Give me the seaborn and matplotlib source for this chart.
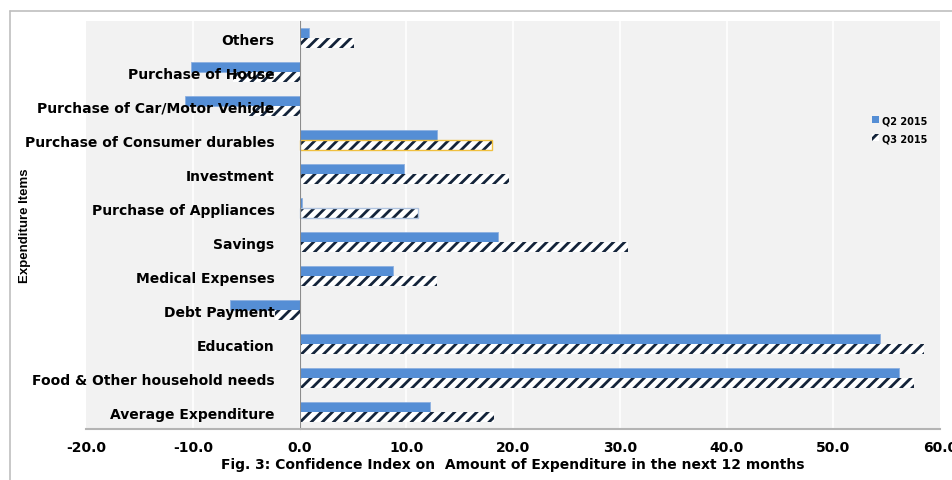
import numpy as np
import pandas as pd
import matplotlib
matplotlib.use("Agg")
import matplotlib.pyplot as plt
from matplotlib.lines import Line2D
import seaborn as sns

# data
categories = ["Others", "Purchase of House", "Purchase of Car/Motor Vehicle",
              "Purchase of Consumer durables", "Investment", "Purchase of Appliances",
              "Savings", "Medical Expenses", "Debt Payment", "Education",
              "Food & Other household needs", "Average Expenditure"]
q2_2015 = [0.9, -10.2, -10.7, 12.9, 9.8, 0.2, 18.6, 8.8, -6.5, 54.4, 56.2, 12.2]
q3_2015 = [5.1, -6.2, -4.8, 18.0, 19.6, 11.1, 30.8, 12.9, -2.3, 58.5, 57.6, 18.2]
series = ["Q2 2015", "Q3 2015"]
x_ticks = [-20, -10, 0, 10, 20, 30, 40, 50, 60]

df = pd.DataFrame({
    "item": categories * 2,
    "value": q2_2015 + q3_2015,
    "period": [series[0]] * len(categories) + [series[1]] * len(categories),
})

sns.set_style("white")
plt.rcParams["font.family"] = ["DejaVu Sans"]
plt.rcParams["hatch.linewidth"] = 2.0
plt.rcParams["text.color"] = "black"
plt.rcParams["axes.labelcolor"] = "black"
plt.rcParams["xtick.color"] = "black"
plt.rcParams["ytick.color"] = "black"

NAVY = "#14243a"
fig = plt.figure(figsize=(9.52, 4.81), dpi=100)
ax = fig.add_axes([86 / 952, 1 - 430 / 481, (940 - 86) / 952, (430 - 22) / 481])
ax.set_facecolor("#f2f2f2")

sns.barplot(data=df, x="value", y="item", hue="period", order=categories,
            hue_order=series, palette=["#558ed5", "white"], width=0.6,
            orient="h", ax=ax, legend=False, saturation=1)

n = len(categories)
for i, bar in enumerate(ax.patches[:2 * n]):
    bar.set_zorder(1)
    if i < n:
        bar.set_edgecolor("#8db0e0")
        bar.set_linewidth(0.6)
    else:
        bar.set_hatch("///")
        bar.set_edgecolor(NAVY)
        bar.set_linewidth(0)

# odd outlines visible in the original (drawn as separate frames so hatch stays navy)
for idx, col in [(n + 3, "#f0c040"), (n + 5, "#b0c4e0")]:
    b = ax.patches[idx]
    ax.add_patch(plt.Rectangle(b.get_xy(), b.get_width(), b.get_height(),
                               fill=False, edgecolor=col, linewidth=1.0, zorder=1.1))

ax.set_xlim(-20, 60)
ax.set_ylim(n - 0.5, -0.5)
ax.set_xticks(x_ticks)
ax.set_xticklabels([f"{t:.1f}" for t in x_ticks], fontsize=10, fontweight="bold")
for t in x_ticks[1:-1]:
    ax.axvline(t, color="white", linewidth=1.2, zorder=0.2)
ax.grid(False)
ax.set_axisbelow(False)  # category labels sit on top of the negative bars

ax.spines["left"].set_position(("data", 0))
ax.spines["left"].set_color("#8c8c8c")
ax.spines["bottom"].set_color("#b4b4b4")
ax.spines["bottom"].set_linewidth(1.5)
ax.spines["top"].set_visible(False)
ax.spines["right"].set_visible(False)

ax.set_yticks(range(n))
ax.set_yticklabels(categories, fontsize=10, fontweight="bold")
ax.set_yticks(np.arange(-0.5, n, 1), minor=True)
ax.tick_params(axis="y", which="major", length=0, pad=18)
ax.tick_params(axis="y", which="minor", length=5, color="#8c8c8c")
ax.tick_params(axis="x", length=5, color="#8c8c8c", pad=3)

ax.set_ylabel("")
ax.set_xlabel("Fig. 3: Confidence Index on  Amount of Expenditure in the next 12 months",
              fontsize=10, fontweight="bold", labelpad=2)
fig.text(25 / 952, 1 - 226 / 481, "Expenditure Items", rotation=90, ha="center",
         va="center", fontsize=9.5, fontweight="bold",
         family=["Liberation Sans Narrow", "Liberation Sans", "DejaVu Sans"])

handles = [plt.Rectangle((0, 0), 1, 1, facecolor="#558ed5", edgecolor="none"),
           plt.Rectangle((0, 0), 1, 1, facecolor="white", hatch="///",
                         edgecolor=NAVY, linewidth=0)]
ax.legend(handles, series, loc="center left", bbox_to_anchor=(0.91, 0.735),
          frameon=False, handlelength=0.7, handleheight=0.7, handletextpad=0.3,
          labelspacing=0.8, prop={"size": 7, "weight": "bold"})

# outer chart border (top and left visible)
fig.add_artist(Line2D([10 / 952, 1], [1 - 12 / 481, 1 - 12 / 481], color="#bfbfbf", lw=1.2))
fig.add_artist(Line2D([10 / 952, 10 / 952], [1 - 12 / 481, 0], color="#bfbfbf", lw=1.2))

fig.savefig("out.png", dpi=100)
